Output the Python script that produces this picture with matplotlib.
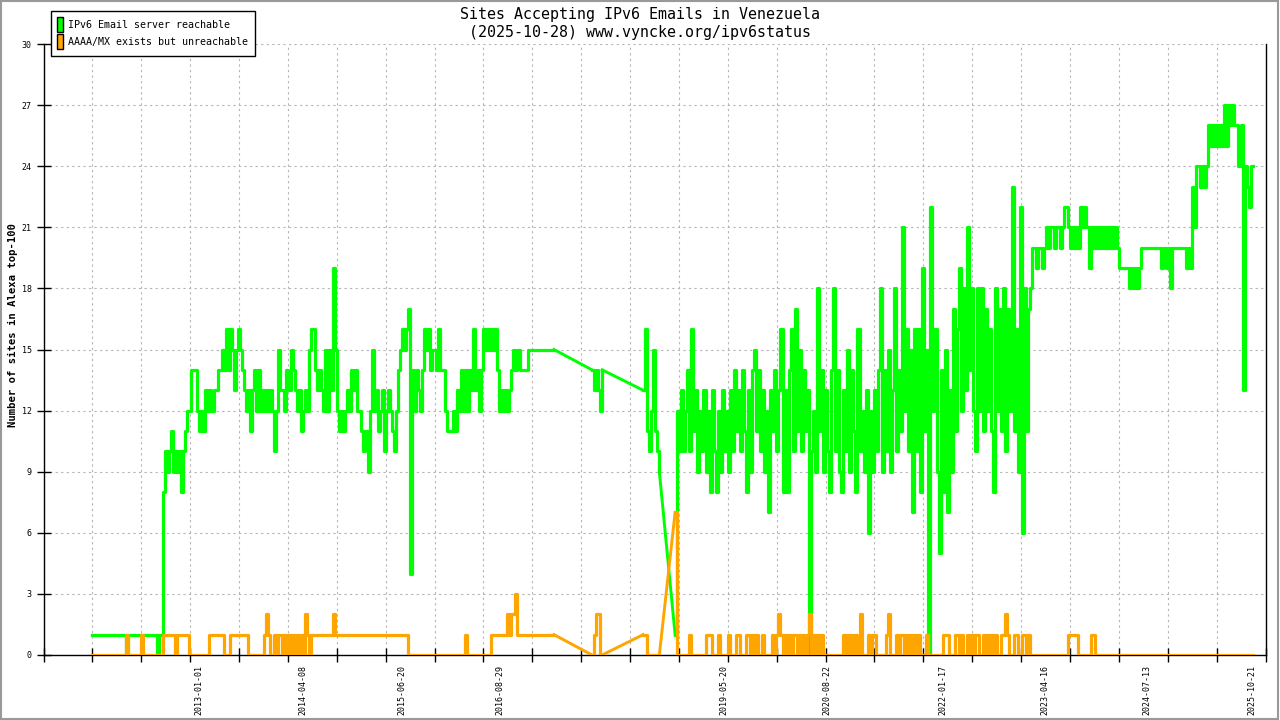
import numpy as np
import pandas as pd
import matplotlib
matplotlib.use('Agg')
import matplotlib.pyplot as plt
import matplotlib.dates as mdates
from matplotlib.patches import Patch, Rectangle

# samples every 9 days; four runs with gaps between them
step = '9D'
start_a = '2011-09-14'
start_b = '2017-10-13'
start_c = '2018-05-28'
start_d = '2018-10-17'

reach_a = ([1] * 17 + [0] + [1] * 14 + [0] + [1, 1] +
           [8, 10, 9, 10, 11, 9, 10, 9, 10, 8,
            10, 11, 12, 12, 14, 14, 14, 12, 11, 12,
            11, 13, 12, 13, 12, 13, 13, 14, 14, 15,
            14, 16, 14, 16, 15, 13, 15, 16, 15, 14,
            13, 12, 13, 11, 13, 14, 12, 14, 12, 13,
            12, 13, 12, 13, 12, 10, 12, 15, 13, 13,
            12, 14, 13, 15, 14, 13, 12, 13, 11, 12,
            13, 12, 15, 16, 16, 14, 13, 14, 13, 12,
            15, 12, 15, 13, 19, 15, 12, 11, 12, 11,
            12, 13, 12, 14, 13, 14, 12, 12, 11, 10,
            11, 9, 12, 15, 12, 13, 11, 12, 13, 10,
            12, 13, 12, 11, 10, 12, 14, 15, 16, 15,
            16, 17, 4, 14, 12, 14, 13, 12, 14, 16,
            15, 16, 14, 15, 15, 14, 16, 14, 14, 12,
            11, 11, 11, 12, 11, 13, 12, 14, 12, 14,
            12, 14, 13, 16, 13, 14, 12, 14, 16, 15,
            16, 15, 16, 15, 16, 14, 12, 13, 12, 13,
            12, 13, 14, 15, 14, 15, 14, 14, 14, 14] +
           [15] * 14)
unreach_a = ([0] * 17 + [1] + [0] * 6 + [1] + [0] * 10 + [1] * 6 + [0] +
             [1] * 6 + [0] * 10 + [1] * 7 + [0] * 3 + [1] * 9 + [0] * 8 +
             [1, 2, 1, 0, 0] +
             [1, 0, 1, 1, 0, 1, 0, 1, 0, 1, 0, 1, 0, 1, 0, 2, 1, 0, 1] +
             [1] * 10 + [2] + [1] * 36 + [0] * 28 + [1] + [0] * 12 +
             [1] * 8 + [2, 1, 2, 2, 3, 1] + [1] * 18)

reach_b = [14, 13, 14, 13, 12, 14]
unreach_b = [0, 1, 2, 2, 0, 0]

reach_c = [13, 16, 11, 10, 12, 15, 11, 10, 9]
unreach_c = [1, 1, 0, 0, 0, 0, 0, 0, 0]

reach_d = [1, 12, 10, 13, 10, 12, 14, 10, 16, 11,
           13, 9, 12, 10, 13, 9, 12, 8, 13, 10,
           8, 12, 9, 13, 10, 12, 9, 13, 10, 14,
           11, 13, 10, 14, 11, 8, 13, 9, 14, 15,
           11, 14, 10, 13, 9, 12, 7, 13, 11, 14,
           10, 13, 16, 8, 13, 8, 14, 16, 10, 17,
           11, 15, 10, 14, 11, 13, 0, 10, 12, 9,
           18, 11, 14, 9, 13, 10, 8, 14, 18, 10,
           14, 9, 8, 13, 10, 15, 9, 14, 11, 8,
           16, 10, 12, 9, 13, 6, 12, 9, 13, 10,
           14, 18, 9, 14, 10, 15, 9, 13, 18, 10,
           14, 11, 21, 12, 16, 10, 15, 7, 16, 10,
           16, 8, 19, 11, 15, 0, 22, 12, 16, 9,
           5, 14, 8, 15, 7, 13, 9, 17, 11, 16,
           19, 12, 18, 13, 21, 14, 18, 12, 10, 18,
           12, 18, 11, 17, 12, 16, 11, 8, 18, 12,
           17, 11, 18, 10, 17, 12, 23, 11, 16, 9,
           22, 6, 18, 11, 17, 18, 20, 20, 19, 20,
           20, 19, 20, 21, 20, 21, 21, 20, 21, 21,
           20, 21, 22, 22, 21, 20, 21, 20, 21, 20,
           22, 21, 22, 21, 19, 21, 20, 21, 20, 21,
           20, 21, 20, 21, 20, 21, 20, 21, 20, 19,
           19, 19, 19, 19, 18, 19, 18, 19, 18, 19,
           20, 20, 20, 20, 20, 20, 20, 20, 20, 20,
           19, 20, 19, 20, 18, 20, 20, 20, 20, 20,
           20, 20, 19, 20, 19, 23, 21, 24, 24, 23,
           24, 23, 24, 26, 25, 26, 25, 26, 25, 26,
           25, 27, 25, 27, 26, 27, 26, 26, 24, 26,
           13, 24, 23, 22, 24, 24]
unreach_d = ([7, 0, 0, 0, 0, 0, 0, 1, 0, 0,
              0, 0, 0, 0, 0, 1, 1, 1, 0, 0,
              0, 1, 0, 0, 0, 0, 1, 0, 0, 0,
              1, 1, 0, 0, 0, 1, 1, 0, 1, 0,
              1, 0, 0, 1, 0, 0, 0, 0, 1, 0,
              1, 2, 1, 0, 1, 0, 1, 0, 1, 1,
              0, 1, 0, 1, 0, 1, 2, 0, 1, 0,
              1, 0, 1, 0, 0, 0, 0, 0, 0, 0,
              0, 0, 0, 1, 0, 1, 0, 1, 0, 1,
              0, 2, 0, 0, 0, 1, 0, 1, 1, 0,
              0, 0, 0, 0, 1, 2, 0, 0, 0, 1,
              0, 1, 1, 0, 1, 0, 1, 0, 1, 0,
              1, 0, 0, 0, 1, 0, 0, 0, 0, 0,
              0, 0, 1, 1, 1, 0, 0, 0, 1, 1,
              0, 1, 0, 0, 1, 0, 1, 0, 1, 1,
              0, 0, 1, 0, 1, 0, 1, 0, 1, 0,
              0, 1, 1, 2, 1, 0, 0, 1, 1, 0,
              0, 1, 1, 0, 1, 0, 0, 0, 0, 0] +
             [0] * 10 +
             [0, 0, 0, 0, 1, 1, 1, 1, 1, 0,
              0, 0, 0, 0, 0, 1, 1, 0, 0, 0] +
             [0] * 76)

label_dates = ['2013-01-01', '2014-04-08', '2015-06-20', '2016-08-29',
               '2019-05-20', '2020-08-22', '2022-01-17', '2023-04-16',
               '2024-07-13', '2025-10-21']
y_ticks = list(range(0, 31, 3))
x_start = '2011-02-11'
x_end = '2025-12-21'

title1 = 'Sites Accepting IPv6 Emails in Venezuela'
title2 = '(2025-10-28) www.vyncke.org/ipv6status'
ylabel = 'Number of sites in Alexa top-100'
legend_labels = ['IPv6 Email server reachable', 'AAAA/MX exists but unreachable']

green = '#00ff00'
orange = '#ffa500'
mono = 'DejaVu Sans Mono'

starts = [start_a, start_b, start_c, start_d]
reach_segs = [reach_a, reach_b, reach_c, reach_d]
unreach_segs = [unreach_a, unreach_b, unreach_c, unreach_d]
seg_dates = [pd.date_range(s, periods=len(v), freq=step) for s, v in zip(starts, reach_segs)]

fig = plt.figure(figsize=(12.8, 7.2), dpi=100)
ax = fig.add_axes([43.5 / 1280, 65 / 720, 1222 / 1280, 611 / 720])


def draw_series(segs, color, z):
    # steps inside each run of data, straight lines across the gaps
    for i, (d, v) in enumerate(zip(seg_dates, segs)):
        ax.plot(d, v, color=color, lw=2.3, drawstyle='steps-post', zorder=z)
        if i + 1 < len(segs):
            ax.plot([d[-1], seg_dates[i + 1][0]], [v[-1], segs[i + 1][0]],
                    color=color, lw=2.1, zorder=z)


draw_series(reach_segs, green, 3)
draw_series(unreach_segs, orange, 4)

x0 = mdates.date2num(pd.Timestamp(x_start))
x1 = mdates.date2num(pd.Timestamp(x_end))
ax.set_xlim(x0, x1)
ax.set_ylim(0, 30)

major = np.linspace(x0, x1, 26)
ax.set_xticks(major, labels=[''] * len(major))
ax.set_xticks(mdates.date2num(pd.to_datetime(label_dates)), labels=label_dates, minor=True)
ax.set_yticks(y_ticks, labels=[str(v) for v in y_ticks])

ax.tick_params(axis='both', which='major', direction='inout', length=10, width=1, colors='black')
ax.tick_params(axis='x', which='minor', length=0, pad=7.5)
ax.tick_params(axis='y', labelsize=6)
for lab in ax.get_xticklabels(minor=True):
    lab.set_rotation(90)
    lab.set_fontsize(6)
    lab.set_family(mono)
    lab.set_va('top')
    lab.set_ha('center')
for lab in ax.get_yticklabels():
    lab.set_family(mono)

ax.grid(True, which='major', color='#b4b4b4', linestyle=(0, (2, 3)), linewidth=0.8)
ax.set_axisbelow(True)
ax.spines['top'].set_visible(False)
for sp in ['left', 'bottom', 'right']:
    ax.spines[sp].set_linewidth(1)
    ax.spines[sp].set_color('black')

fig.text(0.5, 1 - 14 / 720, title1, ha='center', va='center', family=mono, fontsize=10.8)
fig.text(0.5, 1 - 32 / 720, title2, ha='center', va='center', family=mono, fontsize=10.8)
fig.text(13 / 1280, 1 - 325 / 720, ylabel, rotation=90, ha='center', va='center',
         family=mono, fontsize=7.6, fontweight='bold')

handles = [Patch(facecolor=green, edgecolor='black', label=legend_labels[0]),
           Patch(facecolor=orange, edgecolor='black', label=legend_labels[1])]
leg = fig.legend(handles=handles, loc='upper left', bbox_to_anchor=(50.5 / 1280, 1 - 10.5 / 720),
                 frameon=True, fancybox=False, edgecolor='black', framealpha=1,
                 prop={'family': mono, 'size': 7.2}, handlelength=0.6, handleheight=2.0,
                 handletextpad=0.55, borderpad=0.65, labelspacing=0.15, borderaxespad=0)
leg.get_frame().set_linewidth(1.0)

fig.patches.append(Rectangle((0.5 / 1280, 1.5 / 720), 1277 / 1280, 718 / 720,
                             transform=fig.transFigure, fill=False,
                             edgecolor='#999999', lw=1.5))

fig.savefig('out.png', dpi=100)
